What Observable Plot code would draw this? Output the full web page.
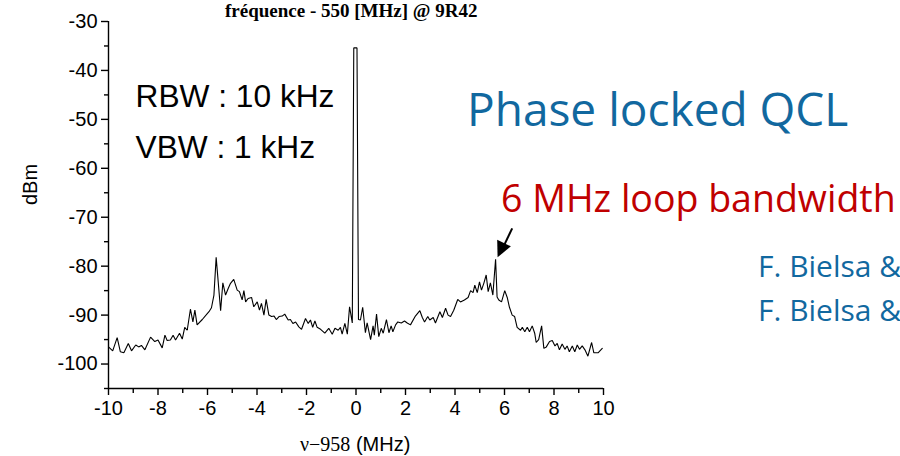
<!DOCTYPE html>
<html>
<head>
<meta charset="utf-8">
<script src="https://cdn.jsdelivr.net/npm/d3@7"></script>
<script src="https://cdn.jsdelivr.net/npm/@observablehq/plot@0.6"></script>
<style>
  html, body { margin: 0; padding: 0; background: #fff; overflow: hidden; }
  #slide { position: relative; width: 900px; height: 456px; overflow: hidden; background: #fff; }
  #slide svg { position: absolute; left: 0; top: 0; }
  .ov { position: absolute; white-space: nowrap; line-height: 1; }
  #title { left: 225px; top: 0px; font: bold 19px "Liberation Serif", "Times New Roman", serif; color: #000; }
  #xlabel { left: 300px; top: 433px; font: 20px "Liberation Sans", Arial, sans-serif; color: #000; }
  #xlabel .nu { font-family: "Liberation Serif", "Times New Roman", serif; font-size: 20px; }
  #headline { left: 467px; top: 77px; font: 46px "Open Sans", sans-serif; color: #11689f; }
  #loop { left: 501px; top: 172px; font: 37.5px "Open Sans", sans-serif; color: #c00000; }
  .ref { left: 758px; font: 30px "Open Sans", sans-serif; color: #11689f; }
</style>
</head>
<body>
<div id="slide"></div>
<script>
// Spectrum of the phase-locked beat note: offset from 958 MHz (MHz) and level (dBm)
const freq = [
  -10.0, -9.83, -9.65, -9.52, -9.38, -9.2, -9.07, -8.9, -8.78, -8.67, -8.53, -8.3, -8.13, -8.0,
  -7.83, -7.72, -7.63, -7.5, -7.39, -7.29, -7.13, -7.02, -6.92, -6.82, -6.69, -6.59, -6.51, -6.42,
  -6.21, -6.01, -5.94, -5.84, -5.74, -5.65, -5.47, -5.38, -5.27, -5.16, -5.07, -4.94, -4.8, -4.71,
  -4.6, -4.53, -4.46, -4.36, -4.22, -4.13, -3.99, -3.9, -3.82, -3.72, -3.63, -3.52, -3.41, -3.31,
  -3.22, -3.11, -2.98, -2.88, -2.74, -2.65, -2.55, -2.44, -2.31, -2.2, -2.04, -1.93, -1.84, -1.75,
  -1.66, -1.57, -1.43, -1.26, -1.1, -0.96, -0.85, -0.72, -0.63, -0.56, -0.45, -0.35, -0.26, -0.15,
  -0.09, 0.04,
  0.1, 0.18, 0.27, 0.38, 0.45, 0.59, 0.69, 0.74, 0.83, 0.92, 1.02, 1.1, 1.23, 1.33, 1.42, 1.49,
  1.6, 1.69, 1.83, 1.96, 2.07, 2.2, 2.4, 2.58, 2.68, 2.77, 2.9, 2.98, 3.12, 3.21, 3.39, 3.49, 3.62,
  3.72, 3.82, 3.95, 4.11, 4.22, 4.38, 4.53, 4.63, 4.73, 4.8, 4.9, 4.99, 5.07, 5.17, 5.26, 5.34,
  5.43, 5.53, 5.64, 5.7, 5.77, 5.88, 6.01, 6.11, 6.2, 6.31, 6.41, 6.51, 6.65, 6.72, 6.82, 6.92,
  7.01, 7.12, 7.22, 7.28, 7.38, 7.5, 7.59, 7.69, 7.82, 7.93, 8.04, 8.13, 8.22, 8.33, 8.44, 8.53,
  8.62, 8.74, 8.84, 8.94, 9.03, 9.14, 9.25, 9.37, 9.52, 9.61, 9.78, 9.95
];
const level = [
  -96.5, -97.3, -94.6, -97.5, -97.7, -95.8, -97.3, -96.1, -96.5, -96.2, -97.1, -94.5, -95.4, -95.1,
  -96.7, -94.1, -95.2, -95.1, -94.1, -95.1, -93.7, -94.9, -92.5, -93.1, -88.8, -91.4, -89.0, -92.0,
  -90.9, -89.7, -89.3, -88.5, -85.9, -78.2, -89.1, -83.4, -85.9, -84.5, -83.5, -82.7, -84.9, -85.2,
  -86.9, -85.0, -87.3, -86.6, -86.4, -88.3, -87.3, -89.0, -87.6, -90.0, -86.8, -90.0, -90.3, -90.2,
  -90.9, -90.3, -90.2, -89.8, -91.0, -90.9, -91.7, -91.4, -92.4, -92.9, -90.7, -91.7, -91.0, -92.5,
  -91.2, -92.5, -92.9, -93.7, -92.7, -93.9, -92.7, -93.1, -92.5, -93.9, -91.7, -93.9, -88.3, -91.6,
  -35.4, -35.4,
  -90.9, -91.0, -88.4, -93.6, -91.6, -95.0, -92.2, -94.1, -89.8, -94.4, -92.7, -93.7, -90.9, -93.6,
  -92.2, -93.4, -92.0, -91.4, -91.6, -91.2, -91.6, -92.0, -90.2, -89.1, -90.5, -91.4, -90.3, -91.0,
  -90.5, -91.6, -89.3, -90.5, -88.6, -90.0, -90.3, -89.0, -86.8, -87.3, -86.9, -86.4, -85.0, -85.4,
  -83.9, -85.4, -83.2, -84.9, -83.4, -81.8, -85.2, -83.4, -85.9, -78.6, -86.3, -86.9, -87.3, -85.0,
  -86.4, -88.4, -90.0, -90.3, -92.5, -93.1, -92.5, -93.4, -92.5, -93.4, -92.2, -93.7, -95.6, -95.0,
  -92.2, -96.8, -96.5, -95.4, -95.2, -96.3, -95.8, -97.1, -95.9, -97.0, -96.3, -97.5, -96.3, -97.5,
  -96.1, -97.0, -96.3, -97.1, -98.4, -95.6, -97.7, -97.7, -96.8
];

// Axis ticks
const xMajor = [-10, -8, -6, -4, -2, 0, 2, 4, 6, 8, 10];
const xMinor = [-9, -7, -5, -3, -1, 1, 3, 5, 7, 9];
const yMajor = [-100, -90, -80, -70, -60, -50, -40, -30];
const yMinor = [-105, -95, -85, -75, -65, -55, -45, -35];

// Instrument settings written inside the frame
const settings = ["RBW : 10 kHz", "VBW : 1 kHz"];

const spectrum = freq.map((f, i) => ({f, dbm: level[i]}));

// The loop-bandwidth servo bump on the positive side, pointed at by the arrow
const servoPeak = spectrum.filter(d => d.f > 3).reduce((a, b) => (b.dbm > a.dbm ? b : a));

const font = '"Liberation Sans", Arial, sans-serif';
const plain = d => String(d); // hyphen-minus, as the analyser software prints it

// Filled arrow pointing down-left onto the servo bump
function servoArrow(index, scales) {
  const tipX = scales.x(servoPeak.f) + 2.5;
  const tipY = scales.y(servoPeak.dbm) - 1.5;
  const g = d3.create("svg:g");
  g.append("line")
    .attr("x1", tipX + 14.6).attr("y1", tipY - 29)
    .attr("x2", tipX + 6.5).attr("y2", tipY - 12)
    .attr("stroke", "#000").attr("stroke-width", 2);
  g.append("path")
    .attr("d", `M${tipX},${tipY}L${tipX - 0.4},${tipY - 17.6}L${tipX + 13.3},${tipY - 11}Z`)
    .attr("fill", "#000");
  return g.node();
}

const chart = Plot.plot({
  width: 900,
  height: 456,
  marginLeft: 108,
  marginRight: 297,
  marginTop: 21,
  marginBottom: 68,
  style: {fontFamily: font, fontSize: "20px", color: "#000", background: "transparent", overflow: "visible"},
  x: {domain: [-10, 10]},
  y: {domain: [-105, -30]},
  marks: [
    Plot.axisY(yMajor, {tickSize: 7, tickPadding: 4, strokeWidth: 1.4, fontSize: 20, fontFamily: font, tickFormat: plain, label: null}),
    Plot.axisY(yMinor, {tickSize: 4, strokeWidth: 1.4, tickFormat: () => "", label: null}),
    Plot.axisX(xMajor, {tickSize: 7, tickPadding: 5, strokeWidth: 1.4, fontSize: 20, fontFamily: font, tickFormat: plain, label: null}),
    Plot.axisX(xMinor, {tickSize: 5, strokeWidth: 1.4, tickFormat: () => "", label: null}),
    Plot.ruleX([-10], {y1: -105, y2: -30, strokeWidth: 1.4}),
    Plot.ruleY([-105], {x1: -10, x2: 10, strokeWidth: 1.4}),
    Plot.line(spectrum, {x: "f", y: "dbm", stroke: "#000", strokeWidth: 1.1, strokeLinejoin: "miter"}),
    Plot.text([settings[0]], {frameAnchor: "top-left", text: d => d, dx: 27, dy: 85, textAnchor: "start", lineAnchor: "bottom", fontSize: 31.7, fontFamily: font}),
    Plot.text([settings[1]], {frameAnchor: "top-left", text: d => d, dx: 27, dy: 136, textAnchor: "start", lineAnchor: "bottom", fontSize: 31.7, fontFamily: font}),
    Plot.text(["dBm"], {frameAnchor: "left", text: d => d, rotate: -90, dx: -78, fontSize: 20, fontFamily: font}),
    servoArrow
  ]
});

const slide = document.getElementById("slide");
slide.appendChild(chart);
slide.insertAdjacentHTML("beforeend", `
  <div class="ov" id="title">fréquence - 550 [MHz] @ 9R42</div>
  <div class="ov" id="xlabel"><span class="nu">ν−958</span> (MHz)</div>
  <div class="ov" id="headline">Phase locked QCL</div>
  <div class="ov" id="loop">6 MHz loop bandwidth</div>
  <div class="ov ref" style="top:245px">F. Bielsa &amp;</div>
  <div class="ov ref" style="top:289px">F. Bielsa &amp;</div>
`);
</script>
</body>
</html>
